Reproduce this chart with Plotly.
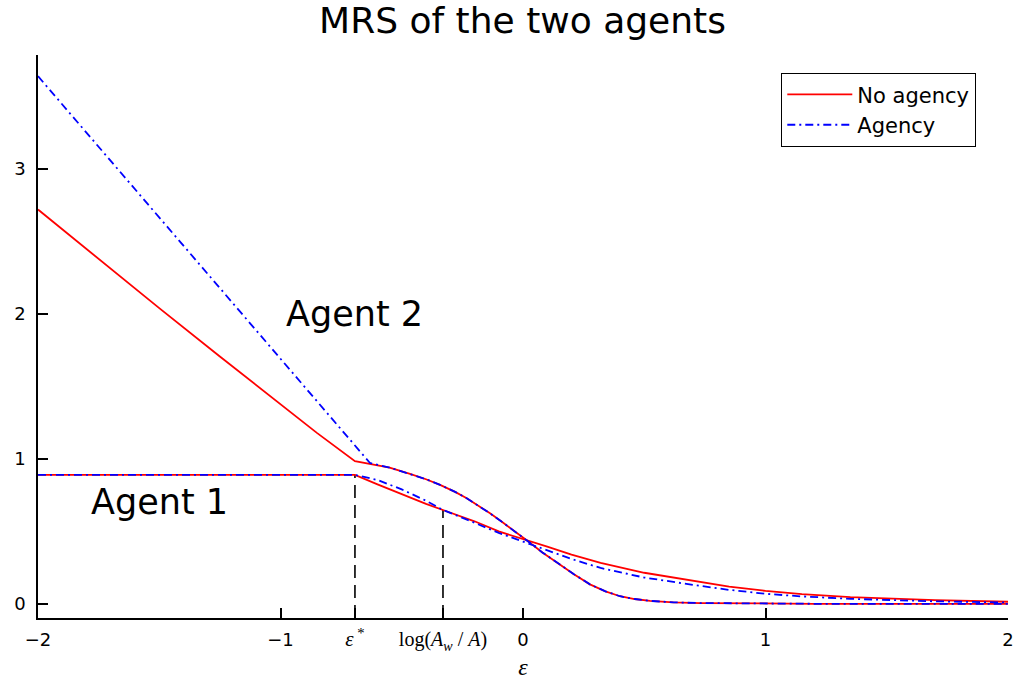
import plotly.graph_objects as go

# ---- data ----
eps_star = -0.693
log_aw_a = -0.33

# Agent 1, no agency
a1_na_x = [-2.0, -0.693, -0.6, -0.5, -0.4, -0.33, -0.2, -0.1, 0.0, 0.1, 0.2, 0.32, 0.5, 0.7, 0.85, 1.0, 1.15, 1.35, 1.7, 2.0]
a1_na_y = [0.89, 0.89, 0.825, 0.755, 0.69, 0.648, 0.57, 0.50, 0.45, 0.395, 0.34, 0.283, 0.215, 0.158, 0.12, 0.09, 0.068, 0.047, 0.026, 0.015]

# Agent 1, agency
a1_ag_x = [-2.0, -0.693, -0.6, -0.5, -0.4, -0.33, -0.2, -0.1, 0.0, 0.1, 0.2, 0.32, 0.5, 0.7, 0.85, 1.0, 1.15, 1.35, 1.7, 2.0]
a1_ag_y = [0.89, 0.89, 0.855, 0.79, 0.712, 0.648, 0.56, 0.49, 0.43, 0.37, 0.31, 0.248, 0.182, 0.132, 0.097, 0.07, 0.052, 0.035, 0.018, 0.01]

# Agent 2, no agency
a2_na_x = [-2.0, -1.75, -1.5, -1.25, -1.0, -0.85, -0.693, -0.617, -0.55, -0.466, -0.4, -0.342, -0.28, -0.232,
           -0.18, -0.136, -0.09, -0.04, 0.022, 0.08, 0.153, 0.21, 0.276, 0.34, 0.4, 0.46, 0.524, 0.62, 0.73,
           0.9, 1.2, 1.6, 2.0]
a2_na_y = [2.72, 2.378, 2.04, 1.707, 1.38, 1.18, 0.985, 0.963, 0.94, 0.897, 0.86, 0.821, 0.773, 0.729,
           0.675, 0.625, 0.57, 0.51, 0.43, 0.355, 0.27, 0.205, 0.135, 0.087, 0.053, 0.034, 0.021, 0.011, 0.006,
           0.003, 0.001, 0.0005, 0.0003]

# Agent 2, agency
a2_ag_x = [-2.0, -1.5, -1.0, -0.8, -0.631, -0.55, -0.466, -0.4, -0.342, -0.28, -0.232,
           -0.18, -0.136, -0.09, -0.04, 0.022, 0.08, 0.153, 0.21, 0.276, 0.34, 0.4, 0.46, 0.524, 0.62, 0.73,
           0.9, 1.2, 1.6, 2.0]
a2_ag_y = [3.64, 2.666, 1.691, 1.30, 0.972, 0.94, 0.897, 0.86, 0.821, 0.773, 0.729,
           0.675, 0.625, 0.57, 0.51, 0.43, 0.355, 0.27, 0.205, 0.135, 0.087, 0.053, 0.034, 0.021, 0.011, 0.006,
           0.003, 0.001, 0.0005, 0.0003]

y_range = [-0.097, 3.786]
x_range = [-2.0, 2.0]
x_tick_vals = [-2, -1, eps_star, log_aw_a, 0, 1, 2]
x_tick_text = ["−2", "−1",
               "<span style='font-family:Liberation Serif;font-size:21px'><i>ε</i><sup> *</sup></span>",
               "<span style='font-family:Liberation Serif;font-size:20px'>log(<i>A</i><sub><i>w</i></sub> / <i>A</i>)</span>",
               "0", "1", "2"]
y_tick_vals = [0, 1, 2, 3]
y_tick_text = ["0", "1", "2", "3"]

RED = "#ff0000"
BLUE = "#0000ff"
DASHDOT = "8px,4px,2px,4px"

fig = go.Figure()

# vertical guide lines
fig.add_trace(go.Scatter(x=[eps_star, eps_star], y=[y_range[0], 0.89], mode="lines",
                         line=dict(color="black", width=1.6, dash="13px,7px"), showlegend=False, hoverinfo="skip"))
fig.add_trace(go.Scatter(x=[log_aw_a, log_aw_a], y=[y_range[0], 0.648], mode="lines",
                         line=dict(color="black", width=1.6, dash="13px,7px"), showlegend=False, hoverinfo="skip"))

fig.add_trace(go.Scatter(x=a2_na_x, y=a2_na_y, mode="lines", name="No agency",
                         line=dict(color=RED, width=1.8), showlegend=True, legendrank=1))
fig.add_trace(go.Scatter(x=a1_na_x, y=a1_na_y, mode="lines", name="No agency",
                         line=dict(color=RED, width=1.8), showlegend=False))
fig.add_trace(go.Scatter(x=a2_ag_x, y=a2_ag_y, mode="lines", name="Agency",
                         line=dict(color=BLUE, width=1.8, dash=DASHDOT), showlegend=True, legendrank=2))
fig.add_trace(go.Scatter(x=a1_ag_x, y=a1_ag_y, mode="lines", name="Agency",
                         line=dict(color=BLUE, width=1.8, dash=DASHDOT), showlegend=False))

fig.add_annotation(x=eps_star, y=2.0, text="Agent 2", showarrow=False,
                   font=dict(size=35, color="black"))
fig.add_annotation(x=-1.5, y=0.7, text="Agent 1", showarrow=False,
                   font=dict(size=35, color="black"))

fig.update_layout(
    width=1014, height=680,
    margin=dict(l=38, r=6, t=55, b=62, autoexpand=False),
    paper_bgcolor="white", plot_bgcolor="white",
    font=dict(family="DejaVu Sans", color="black", size=17),
    title=dict(text="MRS of the two agents", x=0.5153, xanchor="center", y=0.97, yanchor="middle",
               font=dict(size=36, color="black"), automargin=False),
    showlegend=True,
    legend=dict(x=0.967, y=0.968, xanchor="right", yanchor="top",
                bordercolor="black", borderwidth=1.3, bgcolor="white",
                font=dict(size=21, color="black"), itemwidth=65, tracegroupgap=0),
    xaxis=dict(range=x_range, tickvals=x_tick_vals, ticktext=x_tick_text,
               showgrid=False, zeroline=False, showline=True, linecolor="black", linewidth=1.5,
               ticks="inside", ticklen=10, tickwidth=1.5, tickcolor="black",
               tickfont=dict(size=18), mirror=False, automargin=False, ticklabelstandoff=5,
               title=dict(text="<i>ε</i>", font=dict(family="Liberation Serif", size=24), standoff=7)),
    yaxis=dict(range=y_range, tickvals=y_tick_vals, ticktext=y_tick_text,
               showgrid=False, zeroline=False, showline=True, linecolor="black", linewidth=1.5,
               ticks="inside", ticklen=10, tickwidth=1.5, tickcolor="black",
               tickfont=dict(size=18), mirror=False, automargin=False, ticklabelstandoff=7),
)

fig.write_html("out.html", config={"displayModeBar": False},
               post_script="document.body.style.margin='0';document.body.style.overflow='hidden';")
